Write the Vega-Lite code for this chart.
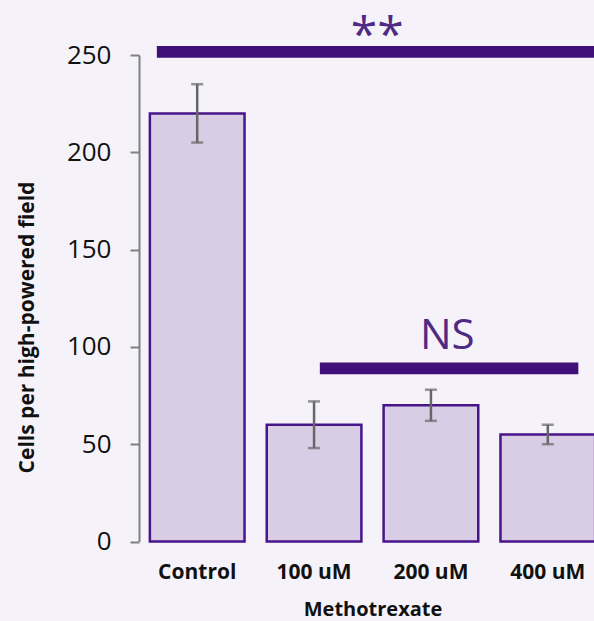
{
  "$schema": "https://vega.github.io/schema/vega-lite/v6.json",
  "width": 467,
  "height": 486.5,
  "autosize": "none",
  "padding": {"left": 139, "top": 55, "right": 0, "bottom": 79.5},
  "background": "#f5f3f9",
  "config": {"view": {"stroke": null}, "font": "Open Sans"},
  "datasets": {
    "bars": [
      {"group": "Control", "mean": 220, "lo": 205, "hi": 235},
      {"group": "100 uM", "mean": 60, "lo": 48, "hi": 72},
      {"group": "200 uM", "mean": 70, "lo": 62, "hi": 78},
      {"group": "400 uM", "mean": 55, "lo": 50, "hi": 60}
    ],
    "sig": [
      {"x1": 0.153, "x2": 4.0, "y": 251.6},
      {"x1": 1.549, "x2": 3.763, "y": 89}
    ],
    "labels": [
      {"x": 2.04, "y": 252, "label": "**", "size": 48},
      {"x": 2.64, "y": 98.9, "label": "NS", "size": 42}
    ]
  },
  "resolve": {"scale": {"x": "independent"}},
  "layer": [
    {
      "data": {"name": "bars"},
      "encoding": {
        "x": {
          "field": "group", "type": "nominal", "sort": null,
          "scale": {"paddingInner": 0.19, "paddingOuter": 0.093},
          "axis": {
            "title": "Methotrexate", "labelAngle": 0, "labelFontSize": 21, "labelFontWeight": "bold",
            "labelColor": "#111111", "labelPadding": 20, "ticks": false, "domain": false,
            "titleFontSize": 20, "titleFontWeight": "bold", "titleColor": "#111111", "titlePadding": 17
          }
        }
      },
      "layer": [
        {
          "mark": {"type": "bar", "fill": "#d9cce5", "stroke": "#48148a", "strokeWidth": 2.5},
          "encoding": {
            "y": {
              "field": "mean", "type": "quantitative",
              "scale": {"domain": [0, 250], "nice": false},
              "axis": {
                "title": "Cells per high-powered field", "values": [0, 50, 100, 150, 200, 250],
                "grid": false, "labelFontSize": 26, "labelColor": "#111111", "labelPadding": 19,
                "tickColor": "#808080", "tickWidth": 2, "tickSize": 9, "domainColor": "#808080", "domainWidth": 2,
                "titleFontSize": 21, "titleFontWeight": "bold", "titleColor": "#111111",
                "titleX": -106, "titleY": 272, "titleBaseline": "alphabetic", "titleAngle": -90, "titleAlign": "center"
              }
            }
          }
        },
        {
          "mark": {"type": "rule", "color": "#666666", "strokeWidth": 2.5},
          "encoding": {"y": {"field": "lo", "type": "quantitative"}, "y2": {"field": "hi"}}
        },
        {
          "mark": {"type": "tick", "color": "#666666", "thickness": 2.5, "size": 12, "orient": "horizontal"},
          "encoding": {"y": {"field": "lo", "type": "quantitative"}}
        },
        {
          "mark": {"type": "tick", "color": "#666666", "thickness": 2.5, "size": 12, "orient": "horizontal"},
          "encoding": {"y": {"field": "hi", "type": "quantitative"}}
        }
      ]
    },
    {
      "layer": [
        {
          "data": {"name": "sig"},
          "mark": {"type": "rule", "color": "#400f78", "strokeWidth": 11.7, "strokeCap": "butt"},
          "encoding": {
            "x": {"field": "x1", "type": "quantitative", "scale": {"domain": [0, 4], "nice": false}, "axis": null},
            "x2": {"field": "x2"},
            "y": {"field": "y", "type": "quantitative"}
          }
        },
        {
          "data": {"name": "labels"},
          "mark": {"type": "text", "color": "#4f2a85", "align": "center", "baseline": "alphabetic"},
          "encoding": {
            "x": {"field": "x", "type": "quantitative", "scale": {"domain": [0, 4], "nice": false}, "axis": null},
            "y": {"field": "y", "type": "quantitative"},
            "text": {"field": "label"},
            "size": {"field": "size", "type": "quantitative", "scale": null, "legend": null}
          }
        }
      ]
    }
  ]
}
